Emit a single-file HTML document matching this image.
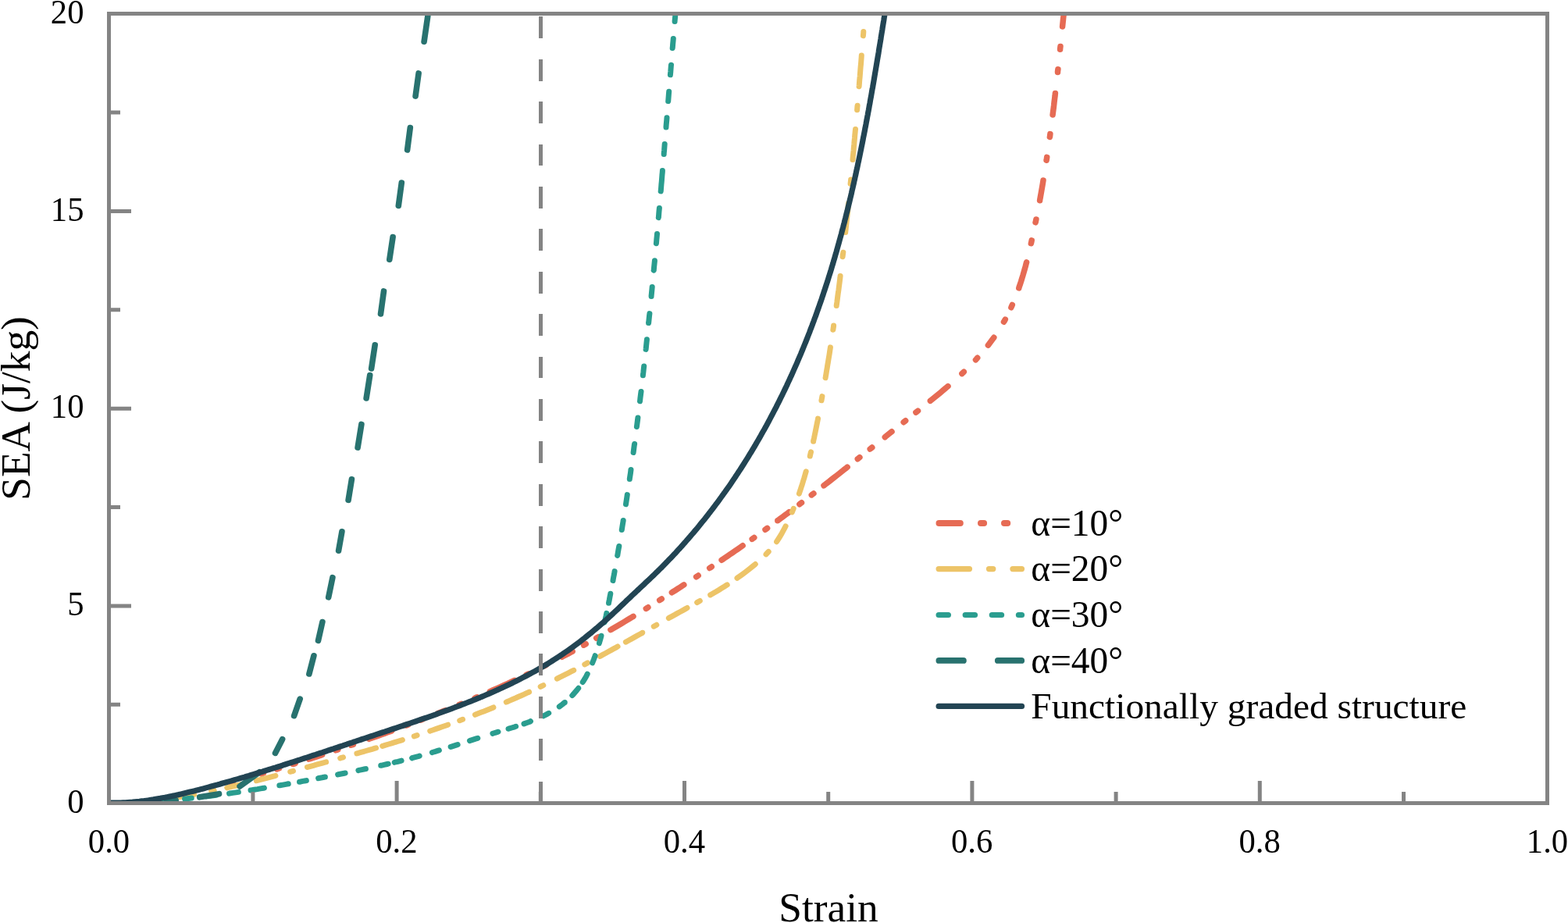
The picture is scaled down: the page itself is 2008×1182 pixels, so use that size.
<!DOCTYPE html>
<html lang="en">
<head>
<meta charset="utf-8">
<title>SEA versus Strain</title>
<style>
html,body{margin:0;padding:0;background:#fff;}
body{width:2008px;height:1182px;overflow:hidden;font-family:'Liberation Serif', serif;}
svg{display:block;}
</style>
</head>
<body>
<svg width="2008" height="1182" viewBox="0 0 2008 1182">
<rect width="2008" height="1182" fill="#fff"/>
<defs><clipPath id="c"><rect x="139.5" y="17.5" width="1842.0" height="1011.0"/></clipPath></defs>
<g clip-path="url(#c)" fill="none" stroke-linecap="round" stroke-linejoin="round">
<path stroke="#E66B54" stroke-width="7.5" d="M295.6 1002.0 L295.8 1002.0 L298.4 1001.3 M314.6 996.7 L315.1 996.5 L317.4 995.9 M334.6 990.9 L335.3 990.7 L337.4 990.0 M354.6 984.9 L355.4 984.6 L357.4 984.0 M375.3 978.5 L375.5 978.5 L378.1 977.6 M395.6 972.1 L396.4 971.8 L400.2 970.6 L404.0 969.4 L407.8 968.1 L411.6 966.9 L412.7 966.5 M430.0 960.8 L430.6 960.6 L432.8 959.9 M449.6 954.2 L450.5 953.9 L452.4 953.3 M472.5 946.3 L473.2 946.1 L477.0 944.7 L480.8 943.4 L484.5 942.1 L488.3 940.7 L492.1 939.4 L495.8 938.0 L499.6 936.7 L501.7 935.9 M520.0 929.1 L520.3 929.1 L522.8 928.1 M538.6 922.1 L539.0 922.0 L541.4 921.0 M560.5 913.6 L561.4 913.2 L565.1 911.8 L568.8 910.3 L570.5 909.6 M588.1 902.4 L588.2 902.4 L590.9 901.3 M608.1 894.0 L608.5 893.8 L610.9 892.8 M627.4 885.6 L627.8 885.4 L631.4 883.8 L635.1 882.2 L638.7 880.6 L642.4 878.9 L646.0 877.3 L649.7 875.6 L653.3 873.9 L656.9 872.2 L659.0 871.3 M674.1 864.1 L675.0 863.7 L676.9 862.8 M696.7 853.0 L697.4 852.7 L699.3 851.7 M719.8 841.2 L720.5 840.8 L724.1 838.9 L727.6 837.1 L731.1 835.2 L733.1 834.1 M747.6 826.2 L747.8 826.1 L750.2 824.7 M763.7 817.2 L764.4 816.8 L766.3 815.7 M781.9 806.6 L782.6 806.3 L786.0 804.3 L789.5 802.2 L792.9 800.2 L796.3 798.2 L799.8 796.1 L803.2 794.1 L806.6 792.0 L810.1 789.9 L811.0 789.4 M827.3 779.4 L828.0 779.0 L829.9 777.8 M844.7 768.6 L845.0 768.4 L847.3 767.0 M860.4 758.8 L861.1 758.3 L864.5 756.2 L867.9 754.0 L871.3 751.9 L874.6 749.7 L875.8 748.9 M891.6 738.7 L892.3 738.3 L894.2 737.0 M908.7 727.5 L909.0 727.3 L911.3 725.8 M924.1 717.2 L924.8 716.8 L928.1 714.5 L931.4 712.3 L934.7 710.0 L938.0 707.8 L941.3 705.5 L944.6 703.3 L947.9 701.0 L951.1 698.7 M963.2 690.3 L963.5 690.1 L965.8 688.4 M980.0 678.2 L980.5 677.9 L982.6 676.4 M995.8 666.7 L995.9 666.7 L999.1 664.3 L1002.3 661.9 L1005.5 659.5 L1008.7 657.2 L1010.6 655.7 M1023.9 645.7 L1024.7 645.1 L1026.5 643.8 M1039.3 633.9 L1039.7 633.6 L1041.9 632.0 M1055.0 621.8 L1055.6 621.4 L1058.7 618.9 L1061.9 616.5 L1065.0 614.0 L1068.2 611.5 L1071.3 609.1 L1074.5 606.6 L1077.6 604.1 L1080.7 601.6 L1083.9 599.2 L1085.1 598.2 M1098.3 587.7 L1098.8 587.4 L1100.9 585.7 M1114.2 575.0 L1114.4 574.9 L1116.8 573.0 M1133.3 559.8 L1134.0 559.2 L1137.1 556.7 L1140.2 554.2 L1142.0 552.8 M1157.2 540.7 L1157.4 540.5 L1159.7 538.7 M1172.9 528.1 L1173.1 528.0 L1175.5 526.1 M1191.4 513.3 L1191.9 512.9 L1195.0 510.4 L1198.1 507.9 L1201.2 505.3 L1204.3 502.8 L1207.4 500.2 L1210.4 497.6 L1213.5 495.0 L1214.0 494.6 M1231.9 478.5 L1232.1 478.3 L1234.3 476.2 M1249.5 460.8 L1249.7 460.6 L1251.7 458.3 M1265.4 442.1 L1265.9 441.5 L1268.3 438.3 L1270.7 435.1 L1272.8 432.3 M1285.5 412.2 L1285.9 411.6 L1287.3 409.1 M1294.9 393.8 L1295.2 393.0 L1296.3 390.5 M1304.8 368.9 L1305.0 368.0 L1306.3 364.2 L1307.6 360.4 L1308.7 356.6 L1309.9 352.8 L1311.0 348.9 L1312.1 345.1 L1313.2 341.2 L1314.2 337.3 L1314.6 335.9 M1320.4 311.7 L1320.6 310.9 L1321.2 307.9 M1326.1 284.8 L1326.2 284.5 L1326.9 281.0 M1331.6 256.7 L1331.7 255.9 L1332.4 252.0 L1333.1 248.1 L1333.8 244.1 L1334.5 240.2 L1335.2 236.2 L1335.8 232.3 L1336.0 231.0 M1340.1 205.2 L1340.2 204.7 L1340.7 201.4 M1344.4 175.4 L1344.5 175.0 L1344.9 171.6 M1348.1 147.0 L1348.2 146.3 L1348.7 142.3 L1349.2 138.4 L1349.7 134.4 L1350.1 130.4 L1350.6 126.4 L1351.1 122.5 L1351.4 119.4 M1354.5 92.5 L1354.5 91.7 L1354.9 88.7 M1357.6 63.2 L1357.6 62.8 L1358.0 59.4 M1360.6 33.9 L1360.7 32.9 L1361.1 28.9 L1361.5 25.0 L1361.9 21.0 L1362.0 20.7"/>
<path stroke="#EDC468" stroke-width="7.0" d="M198.5 1024.9 L198.6 1024.9 L202.5 1024.4 L206.5 1023.9 L210.5 1023.4 L211.5 1023.3 M229.5 1020.7 L230.2 1020.6 L234.2 1019.9 L238.1 1019.3 L242.0 1018.6 L246.0 1017.9 L248.6 1017.4 M270.6 1013.2 L271.5 1013.0 L274.2 1012.4 M290.8 1008.8 L291.0 1008.7 L294.9 1007.8 L298.8 1006.9 L302.7 1006.0 L306.6 1005.1 L309.1 1004.5 M328.4 999.7 L328.9 999.6 L332.8 998.6 L336.7 997.6 L340.6 996.6 L344.5 995.6 L348.3 994.6 L352.2 993.6 L352.9 993.4 M371.7 988.3 L372.5 988.1 L375.5 987.3 M393.4 982.5 L393.8 982.4 L397.7 981.3 L401.5 980.3 L405.4 979.2 L409.2 978.2 L413.1 977.1 L417.0 976.0 L417.6 975.9 M435.7 970.9 L436.2 970.7 L439.5 969.8 M456.9 964.9 L457.4 964.8 L461.2 963.7 L465.1 962.6 L468.9 961.5 L472.8 960.4 L476.6 959.3 L480.4 958.1 L481.6 957.8 M489.7 955.4 L490.0 955.3 L493.8 954.2 L497.7 953.0 L501.5 951.9 L505.3 950.7 L509.1 949.5 L512.9 948.3 L515.4 947.6 M530.3 942.8 L531.0 942.6 L534.1 941.6 M550.7 936.1 L551.0 936.0 L554.8 934.7 L558.6 933.4 L562.3 932.1 L566.1 930.8 L569.9 929.5 L573.6 928.2 M588.7 922.7 L588.7 922.7 L592.5 921.3 M608.4 915.3 L608.4 915.3 L612.1 913.8 L615.9 912.3 L619.6 910.9 L623.3 909.4 L627.0 907.9 L630.7 906.4 L631.9 905.9 M648.3 899.1 L649.2 898.7 L652.9 897.1 L656.6 895.5 L660.2 894.0 L663.9 892.3 L667.6 890.7 L671.2 889.1 L674.8 887.4 L677.6 886.2 M692.2 879.4 L693.0 879.0 L695.8 877.7 M713.3 869.1 L713.6 869.0 L717.2 867.2 L720.8 865.4 L724.3 863.6 L727.9 861.8 L731.5 859.9 L734.7 858.3 M748.8 850.9 L749.2 850.7 L752.4 848.9 M768.4 840.4 L768.5 840.3 L772.0 838.4 L775.6 836.5 L779.1 834.5 L782.6 832.6 L786.1 830.7 L789.6 828.8 L791.0 827.9 M801.4 822.2 L801.8 822.0 L805.3 820.0 L808.8 818.1 L812.3 816.1 L815.8 814.2 L819.3 812.2 L822.8 810.3 L822.8 810.2 M837.2 802.2 L837.7 802.0 L840.8 800.2 M856.4 791.6 L856.9 791.2 L860.4 789.3 L864.0 787.4 L867.5 785.4 L871.0 783.5 L874.5 781.6 L878.0 779.6 L880.0 778.5 M892.7 771.6 L892.9 771.4 L896.3 769.5 M909.7 761.9 L910.4 761.5 L913.8 759.5 L917.3 757.5 L920.7 755.4 L924.1 753.3 L927.5 751.2 L930.9 749.1 L931.2 748.9 M944.0 740.3 L944.1 740.2 L947.4 737.9 L950.6 735.6 L953.8 733.2 L957.0 730.8 L960.2 728.3 L963.3 725.8 L966.4 723.3 L967.3 722.5 M981.0 709.9 L981.1 709.7 L983.9 706.8 L984.2 706.5 M994.6 693.7 L995.1 692.9 L997.3 689.5 L999.4 686.1 L1001.4 682.7 L1003.3 679.2 L1005.2 675.6 L1006.1 673.8 M1014.3 655.9 L1014.4 655.7 L1015.9 652.0 L1016.2 651.3 M1023.4 632.1 L1023.6 631.5 L1024.9 627.7 L1026.1 623.9 L1027.4 620.1 L1028.5 616.3 L1029.7 612.5 L1030.8 608.6 L1031.9 604.8 L1032.2 603.8 M1037.3 584.0 L1037.4 583.5 L1038.3 579.6 L1038.5 578.8 M1041.6 565.3 L1041.6 564.9 L1042.5 561.0 L1043.3 557.1 L1044.1 553.2 L1044.9 549.2 L1045.7 545.3 L1046.5 541.3 L1047.3 537.4 L1047.5 536.1 M1051.9 512.8 L1052.0 512.8 L1052.7 508.8 L1052.9 507.6 M1057.1 483.7 L1057.2 483.2 L1057.9 479.2 L1058.5 475.3 L1059.2 471.3 L1059.8 467.4 L1060.5 463.4 L1061.1 459.5 L1061.8 455.5 L1062.4 451.6 L1063.0 447.6 L1063.4 444.9 M1066.8 422.3 L1066.9 421.9 L1067.5 418.0 L1067.6 416.9 M1071.2 391.6 L1071.2 391.2 L1071.8 387.3 L1072.3 383.3 L1072.8 379.3 L1073.3 375.4 L1073.9 371.4 L1074.4 367.4 L1074.9 363.5 L1075.4 359.5 L1075.9 355.5 L1076.1 353.5 M1079.1 328.7 L1079.2 327.8 L1079.7 323.8 L1079.8 323.3 M1082.7 297.5 L1082.7 297.0 L1083.2 293.0 L1083.6 289.0 L1084.0 285.1 L1084.4 281.1 L1084.9 277.1 L1085.3 273.1 L1085.7 269.2 L1086.1 265.2 L1086.5 261.2 L1086.6 260.3 M1089.1 235.3 L1089.2 234.3 L1089.6 230.4 L1089.6 229.9 M1092.0 204.6 L1092.0 204.5 L1092.3 200.5 L1092.7 196.5 L1093.1 192.5 L1093.4 188.5 L1093.8 184.6 L1094.1 180.6 L1094.5 176.6 L1094.8 172.6 L1095.2 168.6 L1095.5 165.5 M1097.6 140.7 L1097.6 140.7 L1097.9 136.7 L1098.1 135.3 M1100.1 110.7 L1100.2 109.8 L1100.5 105.8 L1100.8 101.8 L1101.2 97.8 L1101.5 93.8 L1101.8 89.8 L1102.1 85.9 L1102.5 81.9 L1102.8 77.9 L1103.1 73.9 L1103.3 71.1 M1105.4 45.8 L1105.5 44.9 L1105.8 40.9 L1105.8 40.4"/>
<path stroke="#2A9D8F" stroke-width="7.0" d="M208.5 1025.5 L208.7 1025.5 L212.6 1025.2 L216.6 1024.9 L217.5 1024.8 M236.6 1023.0 L237.5 1022.9 L241.5 1022.5 L245.3 1022.1 M264.5 1019.9 L265.3 1019.8 L269.3 1019.3 L273.2 1018.8 L276.5 1018.4 M293.5 1016.1 L294.0 1016.0 L298.0 1015.4 L301.9 1014.9 L305.3 1014.4 M321.0 1012.0 L321.7 1011.9 L325.6 1011.2 L329.6 1010.6 L333.5 1009.9 L337.5 1009.3 L338.4 1009.1 M357.8 1005.8 L358.2 1005.8 L362.1 1005.1 L366.1 1004.4 L369.2 1003.8 M383.5 1001.2 L383.8 1001.2 L387.7 1000.4 L391.7 999.7 L392.3 999.6 M407.6 996.7 L408.4 996.5 L412.4 995.8 L416.3 995.0 L416.4 995.0 M432.6 991.9 L433.0 991.8 L437.0 991.0 L440.9 990.2 L442.1 990.0 M458.9 986.6 L459.6 986.4 L463.5 985.6 L467.4 984.8 L468.4 984.6 M487.7 980.3 L488.0 980.3 L491.9 979.4 L495.8 978.5 L497.2 978.2 M505.2 976.3 L505.5 976.2 L509.4 975.3 L513.3 974.3 L514.1 974.1 M527.7 970.7 L527.8 970.6 L531.6 969.6 L535.5 968.6 L537.2 968.1 M553.4 963.6 L553.7 963.5 L557.5 962.4 L561.3 961.2 L562.4 960.9 M577.1 956.4 L577.5 956.3 L581.3 955.1 L585.1 953.9 L586.1 953.5 M601.5 948.6 L602.1 948.4 L606.0 947.1 L609.8 945.9 L611.8 945.3 M630.9 939.3 L631.9 939.0 L635.8 937.8 L638.0 937.2 M651.0 933.3 L651.4 933.2 L655.3 932.0 L659.2 930.8 L660.6 930.3 M671.0 926.9 L671.8 926.6 L675.6 925.3 L679.3 923.9 L679.4 923.8 M695.9 916.8 L695.9 916.8 L699.4 915.1 L702.7 913.3 M716.3 904.9 L717.0 904.4 L720.2 902.0 L723.2 899.5 L723.3 899.5 M732.8 890.6 L733.3 890.1 L735.9 887.1 L738.5 884.1 L740.7 881.3 M746.2 873.5 L746.7 872.8 L748.8 869.4 L750.8 865.9 L752.2 863.2 M758.7 848.9 L758.8 848.5 L760.3 844.7 L761.7 840.9 L762.1 839.7 M767.4 823.6 L767.6 822.8 L768.7 819.0 L769.8 815.1 L770.0 814.2 M774.3 796.7 L774.4 796.6 L775.2 792.7 L776.1 788.8 L776.8 785.4 M779.5 772.3 L779.5 772.1 L780.3 768.2 L781.0 764.3 L781.8 760.4 L781.8 760.3 M785.0 743.5 L785.1 742.6 L785.8 738.7 L786.6 734.8 L787.1 731.6 M790.7 711.4 L790.8 711.1 L791.4 707.2 L792.1 703.2 L792.8 699.5 M796.2 678.6 L796.3 678.6 L796.9 674.6 L797.5 670.7 L798.2 666.7 L798.2 666.5 M801.5 645.8 L801.6 645.0 L802.2 641.0 L802.8 637.1 L803.3 633.6 M806.3 613.6 L806.3 613.3 L806.9 609.4 L807.5 605.4 L808.0 601.5 L808.0 601.4 M811.1 579.5 L811.2 578.7 L811.7 574.7 L812.2 570.7 L812.6 568.5 M815.4 546.5 L815.5 545.9 L816.0 542.0 L816.5 538.0 L816.9 534.9 M819.5 513.7 L819.6 513.2 L820.0 509.2 L820.5 505.2 L821.0 501.5 M823.4 480.8 L823.4 480.4 L823.9 476.4 L824.3 472.5 L824.7 469.0 M827.1 447.4 L827.2 446.6 L827.6 442.6 L828.0 438.6 L828.4 434.8 M830.6 413.6 L830.7 412.8 L831.1 408.8 L831.5 404.8 L831.9 401.6 M834.1 379.5 L834.1 378.9 L834.5 374.9 L834.9 370.9 L835.2 367.4 M837.2 346.2 L837.3 346.0 L837.6 342.0 L838.0 338.1 L838.4 334.1 L838.4 333.7 M840.4 311.7 L840.5 311.1 L840.8 307.2 L841.2 303.2 L841.5 299.5 M843.3 278.6 L843.4 278.2 L843.7 274.3 L844.0 270.3 L844.4 266.4 M846.2 244.9 L846.3 244.3 L846.6 240.4 L846.9 236.4 L847.3 232.4 L847.6 228.4 L847.9 224.4 L848.3 220.4 L848.4 218.6 M850.2 197.4 L850.2 196.5 L850.6 192.5 L850.9 188.5 L851.2 184.5 L851.2 184.5 M853.0 163.1 L853.0 162.6 L853.3 158.6 L853.7 154.6 L854.0 150.8 M855.7 129.6 L855.8 128.7 L856.1 124.7 L856.4 120.7 L856.7 117.3 M858.4 95.8 L858.4 95.8 L858.8 91.8 L859.1 87.8 L859.4 83.8 L859.5 83.2 M861.2 61.6 L861.3 60.9 L861.6 56.9 L862.0 52.9 L862.3 49.4 M864.1 27.4 L864.1 27.0 L864.5 23.0 L864.7 20.5"/>
<path stroke="#28726F" stroke-width="7.6" d="M547.8 20.8 L543.1 53.3 M536.1 93.9 L532.1 123.1 M525.3 163.5 L521.6 192.0 M514.3 234.1 L510.3 263.4 M503.1 303.6 L498.8 332.3 M491.5 372.9 L487.5 401.9 M480.2 441.8 L475.6 472.0 M473.7 480.6 L469.1 510.0 M462.9 543.4 L458.1 573.1 M450.4 613.8 L446.1 640.3 M437.9 680.8 L433.6 705.2 M425.9 739.7 L420.7 764.8 M412.9 796.5 L407.5 820.4 M401.9 839.8 L395.9 863.0 M384.2 895.1 L376.6 916.7 M361.6 946.7 L352.5 964.4 M332.2 988.8 L307.1 1007.0 M280.5 1016.7 L255.7 1020.8 M225.2 1025.1 L213.7 1026.1"/>
<path stroke="#224453" stroke-width="7.2" d="M139.6 1028.2 L142.6 1028.2 L145.6 1028.2 L148.6 1028.2 L151.6 1028.2 L154.6 1028.1 L157.6 1027.9 L160.6 1027.8 L163.6 1027.6 L166.6 1027.4 L169.6 1027.2 L172.6 1026.9 L175.5 1026.6 L178.5 1026.3 L181.5 1025.9 L184.5 1025.6 L187.5 1025.2 L190.4 1024.8 L193.4 1024.3 L196.4 1023.9 L199.3 1023.4 L202.3 1022.9 L205.2 1022.4 L208.2 1021.8 L211.2 1021.3 L214.1 1020.7 L217.1 1020.1 L220.0 1019.5 L222.9 1018.9 L225.9 1018.2 L228.8 1017.6 L231.8 1016.9 L234.7 1016.2 L237.6 1015.5 L240.5 1014.8 L243.5 1014.1 L246.4 1013.4 L249.3 1012.7 L252.2 1011.9 L255.2 1011.2 L258.1 1010.4 L261.0 1009.7 L263.9 1008.9 L266.8 1008.1 L269.7 1007.3 L272.6 1006.5 L275.5 1005.7 L278.4 1005.0 L281.3 1004.2 L284.2 1003.3 L287.1 1002.5 L289.9 1001.7 L292.8 1000.9 L295.7 1000.1 L298.6 999.3 L301.5 998.4 L304.4 997.6 L307.2 996.8 L310.1 995.9 L313.0 995.1 L315.8 994.2 L318.7 993.4 L321.6 992.5 L324.4 991.6 L327.3 990.8 L330.2 989.9 L333.0 989.0 L335.9 988.2 L338.8 987.3 L341.6 986.4 L344.5 985.5 L347.3 984.6 L350.2 983.7 L353.0 982.9 L355.9 982.0 L358.7 981.1 L361.6 980.2 L364.4 979.2 L367.3 978.3 L370.1 977.4 L373.0 976.5 L375.8 975.6 L378.7 974.7 L381.5 973.8 L384.4 972.9 L387.2 971.9 L390.0 971.0 L392.9 970.1 L395.7 969.2 L398.6 968.2 L401.4 967.3 L404.3 966.4 L407.1 965.4 L409.9 964.5 L412.8 963.6 L415.6 962.6 L418.5 961.7 L421.3 960.7 L424.2 959.8 L427.0 958.9 L429.8 957.9 L432.7 957.0 L435.5 956.0 L438.4 955.1 L441.2 954.1 L444.1 953.2 L446.9 952.2 L449.8 951.3 L452.6 950.3 L455.5 949.4 L458.3 948.4 L461.2 947.5 L464.0 946.5 L466.9 945.6 L469.7 944.7 L472.6 943.7 L475.4 942.8 L478.3 941.8 L481.1 940.9 L484.0 939.9 L486.8 939.0 L489.7 938.0 L492.6 937.1 L495.4 936.1 L498.3 935.2 L501.2 934.2 L504.0 933.3 L506.9 932.3 L509.7 931.4 L512.6 930.4 L515.5 929.5 L518.3 928.5 L521.2 927.5 L524.0 926.6 L526.9 925.6 L529.8 924.6 L532.6 923.7 L535.5 922.7 L538.3 921.7 L541.2 920.7 L544.0 919.8 L546.9 918.8 L549.7 917.8 L552.6 916.8 L555.4 915.8 L558.3 914.8 L561.1 913.7 L564.0 912.7 L566.8 911.7 L569.6 910.7 L572.5 909.6 L575.3 908.6 L578.1 907.6 L580.9 906.5 L583.7 905.4 L586.6 904.4 L589.4 903.3 L592.2 902.2 L595.0 901.1 L597.8 900.0 L600.6 898.9 L603.4 897.8 L606.2 896.7 L608.9 895.6 L611.7 894.4 L614.5 893.3 L617.3 892.1 L620.0 891.0 L622.8 889.8 L625.5 888.6 L628.3 887.4 L631.0 886.2 L633.7 885.0 L636.5 883.8 L639.2 882.5 L641.9 881.3 L644.6 880.0 L647.3 878.8 L650.0 877.5 L652.7 876.2 L655.4 874.9 L658.1 873.6 L660.8 872.3 L663.4 870.9 L666.1 869.6 L668.7 868.2 L671.4 866.8 L674.0 865.5 L676.6 864.1 L679.3 862.6 L681.9 861.2 L684.5 859.8 L687.1 858.3 L689.7 856.8 L692.2 855.3 L694.8 853.8 L697.4 852.3 L699.9 850.8 L702.5 849.3 L705.0 847.7 L707.5 846.1 L710.0 844.5 L712.6 842.9 L715.1 841.3 L717.5 839.6 L720.0 838.0 L722.5 836.3 L724.9 834.6 L727.4 832.9 L729.8 831.2 L732.3 829.4 L734.7 827.7 L737.1 825.9 L739.5 824.1 L741.9 822.3 L744.2 820.5 L746.6 818.6 L749.0 816.8 L751.3 814.9 L753.6 813.0 L756.0 811.2 L758.3 809.2 L760.6 807.3 L762.9 805.4 L765.2 803.5 L767.5 801.5 L769.7 799.5 L772.0 797.6 L774.2 795.6 L776.5 793.6 L778.7 791.6 L780.9 789.5 L783.1 787.5 L785.3 785.5 L787.5 783.4 L789.7 781.4 L791.9 779.3 L794.1 777.2 L796.2 775.2 L798.4 773.1 L800.6 771.0 L802.7 768.9 L804.9 766.9 L807.1 764.8 L809.3 762.7 L811.5 760.7 L813.7 758.6 L815.9 756.5 L818.1 754.5 L820.3 752.4 L822.5 750.4 L824.7 748.3 L826.9 746.2 L829.1 744.1 L831.3 742.1 L833.5 740.0 L835.7 737.9 L837.9 735.8 L840.0 733.7 L842.2 731.6 L844.3 729.5 L846.5 727.4 L848.6 725.2 L850.7 723.1 L852.8 720.9 L854.9 718.8 L857.0 716.6 L859.1 714.4 L861.2 712.2 L863.2 710.1 L865.3 707.9 L867.3 705.6 L869.3 703.4 L871.4 701.2 L873.4 699.0 L875.4 696.7 L877.4 694.5 L879.3 692.2 L881.3 690.0 L883.3 687.7 L885.2 685.4 L887.2 683.2 L889.1 680.9 L891.0 678.6 L893.0 676.3 L894.9 674.0 L896.8 671.6 L898.6 669.3 L900.5 667.0 L902.4 664.7 L904.3 662.3 L906.1 660.0 L907.9 657.6 L909.8 655.2 L911.6 652.8 L913.4 650.5 L915.2 648.1 L917.0 645.7 L918.8 643.3 L920.6 640.9 L922.3 638.5 L924.1 636.0 L925.8 633.6 L927.6 631.2 L929.3 628.7 L931.0 626.3 L932.8 623.9 L934.5 621.4 L936.2 618.9 L937.8 616.5 L939.5 614.0 L941.2 611.5 L942.8 609.0 L944.5 606.5 L946.1 604.0 L947.8 601.5 L949.4 599.0 L951.0 596.5 L952.6 594.0 L954.2 591.4 L955.8 588.9 L957.4 586.3 L958.9 583.8 L960.5 581.2 L962.1 578.7 L963.6 576.1 L965.1 573.6 L966.7 571.0 L968.2 568.4 L969.7 565.8 L971.2 563.2 L972.7 560.6 L974.2 558.0 L975.6 555.4 L977.1 552.8 L978.6 550.2 L980.0 547.6 L981.5 545.0 L982.9 542.3 L984.3 539.7 L985.7 537.1 L987.1 534.4 L988.5 531.8 L989.9 529.1 L991.3 526.4 L992.7 523.8 L994.1 521.1 L995.4 518.4 L996.8 515.8 L998.1 513.1 L999.4 510.4 L1000.8 507.7 L1002.1 505.0 L1003.4 502.3 L1004.7 499.6 L1006.0 496.9 L1007.3 494.2 L1008.5 491.5 L1009.8 488.8 L1011.1 486.0 L1012.3 483.3 L1013.6 480.6 L1014.8 477.8 L1016.0 475.1 L1017.2 472.4 L1018.5 469.6 L1019.7 466.9 L1020.9 464.1 L1022.0 461.4 L1023.2 458.6 L1024.4 455.8 L1025.6 453.1 L1026.7 450.3 L1027.9 447.5 L1029.0 444.7 L1030.1 442.0 L1031.3 439.2 L1032.4 436.4 L1033.5 433.6 L1034.6 430.8 L1035.7 428.0 L1036.8 425.2 L1037.8 422.4 L1038.9 419.6 L1040.0 416.8 L1041.0 414.0 L1042.1 411.2 L1043.1 408.3 L1044.2 405.5 L1045.2 402.7 L1046.2 399.9 L1047.2 397.0 L1048.2 394.2 L1049.2 391.4 L1050.2 388.5 L1051.2 385.7 L1052.2 382.9 L1053.1 380.0 L1054.1 377.2 L1055.0 374.3 L1056.0 371.5 L1056.9 368.6 L1057.8 365.8 L1058.8 362.9 L1059.7 360.1 L1060.6 357.2 L1061.5 354.3 L1062.4 351.5 L1063.3 348.6 L1064.2 345.7 L1065.0 342.9 L1065.9 340.0 L1066.8 337.1 L1067.6 334.2 L1068.5 331.4 L1069.3 328.5 L1070.1 325.6 L1071.0 322.7 L1071.8 319.8 L1072.6 316.9 L1073.4 314.0 L1074.2 311.2 L1075.0 308.3 L1075.8 305.4 L1076.6 302.5 L1077.4 299.6 L1078.1 296.7 L1078.9 293.8 L1079.7 290.9 L1080.4 288.0 L1081.2 285.1 L1081.9 282.1 L1082.7 279.2 L1083.4 276.3 L1084.1 273.4 L1084.9 270.5 L1085.6 267.6 L1086.3 264.7 L1087.0 261.7 L1087.7 258.8 L1088.4 255.9 L1089.1 253.0 L1089.8 250.1 L1090.5 247.1 L1091.1 244.2 L1091.8 241.3 L1092.5 238.4 L1093.2 235.4 L1093.8 232.5 L1094.5 229.6 L1095.1 226.6 L1095.8 223.7 L1096.4 220.8 L1097.0 217.8 L1097.7 214.9 L1098.3 212.0 L1098.9 209.0 L1099.6 206.1 L1100.2 203.1 L1100.8 200.2 L1101.4 197.3 L1102.0 194.3 L1102.6 191.4 L1103.2 188.4 L1103.8 185.5 L1104.4 182.5 L1105.0 179.6 L1105.5 176.6 L1106.1 173.7 L1106.7 170.7 L1107.3 167.8 L1107.8 164.8 L1108.4 161.9 L1109.0 158.9 L1109.5 156.0 L1110.1 153.0 L1110.6 150.1 L1111.2 147.1 L1111.7 144.2 L1112.3 141.2 L1112.8 138.3 L1113.3 135.3 L1113.9 132.4 L1114.4 129.4 L1114.9 126.5 L1115.5 123.5 L1116.0 120.5 L1116.5 117.6 L1117.0 114.6 L1117.6 111.7 L1118.1 108.7 L1118.6 105.8 L1119.1 102.8 L1119.6 99.8 L1120.1 96.9 L1120.6 93.9 L1121.1 91.0 L1121.6 88.0 L1122.1 85.1 L1122.6 82.1 L1123.1 79.1 L1123.6 76.2 L1124.1 73.2 L1124.6 70.3 L1125.1 67.3 L1125.5 64.4 L1126.0 61.4 L1126.5 58.5 L1127.0 55.5 L1127.5 52.5 L1128.0 49.6 L1128.4 46.6 L1128.9 43.7 L1129.4 40.7 L1129.9 37.8 L1130.3 34.8 L1130.8 31.9 L1131.3 28.9 L1131.8 26.0 L1132.2 23.0 L1132.7 20.1 L1133.2 17.1"/>
<line x1="692.5" y1="1028.5" x2="692.5" y2="17.5" stroke="#848484" stroke-width="5" stroke-linecap="butt" stroke-dasharray="27.9 26.5" shape-rendering="crispEdges"/>
</g>
<g stroke="#848484" stroke-width="5.0" fill="none" stroke-linecap="butt" shape-rendering="crispEdges">
<rect x="139.5" y="17.5" width="1842.0" height="1011.0"/>
<path shape-rendering="auto" d="M323.90 1028.5 v-14.5 M508.10 1028.5 v-28.5 M692.30 1028.5 v-14.5 M876.50 1028.5 v-28.5 M1060.70 1028.5 v-14.5 M1244.90 1028.5 v-28.5 M1429.10 1028.5 v-14.5 M1613.30 1028.5 v-28.5 M1797.50 1028.5 v-14.5 M139.5 902.33 h14.5 M139.5 775.95 h28.5 M139.5 649.58 h14.5 M139.5 523.20 h28.5 M139.5 396.82 h14.5 M139.5 270.45 h28.5 M139.5 144.07 h14.5"/>
</g>
<g font-family="'Liberation Serif', serif" font-size="42.67" fill="#000">
<text transform="translate(107.5 1040.8) scale(1 1.035)" text-anchor="end">0</text>
<text transform="translate(107.5 788.0) scale(1 1.035)" text-anchor="end">5</text>
<text transform="translate(107.5 535.3) scale(1 1.035)" text-anchor="end">10</text>
<text transform="translate(107.5 282.6) scale(1 1.035)" text-anchor="end">15</text>
<text transform="translate(107.5 29.8) scale(1 1.035)" text-anchor="end">20</text>
<text transform="translate(139.5 1092.3) scale(1 1.035)" text-anchor="middle">0.0</text>
<text transform="translate(507.9 1092.3) scale(1 1.035)" text-anchor="middle">0.2</text>
<text transform="translate(876.3 1092.3) scale(1 1.035)" text-anchor="middle">0.4</text>
<text transform="translate(1244.7 1092.3) scale(1 1.035)" text-anchor="middle">0.6</text>
<text transform="translate(1613.1 1092.3) scale(1 1.035)" text-anchor="middle">0.8</text>
<text transform="translate(1981.5 1092.3) scale(1 1.035)" text-anchor="middle">1.0</text>
</g>
<g font-family="'Liberation Serif', serif" font-size="53.33" fill="#000" text-anchor="middle">
<text x="1061.0" y="1180.0">Strain</text>
<text transform="translate(38.0 522.9) rotate(-90)">SEA (J/kg)</text>
</g>
<g fill="none" stroke-linecap="round">
<line x1="1202.50" y1="670.0" x2="1308.10" y2="670.0" stroke="#E66B54" stroke-width="8.0" stroke-dasharray="27.3 26.2 4.1 25.9 4.2 26"/>
<line x1="1202.10" y1="728.6" x2="1308.50" y2="728.6" stroke="#EDC468" stroke-width="7.2" stroke-dasharray="39.4 25 5.3 25.1"/>
<line x1="1202.10" y1="787.5" x2="1308.50" y2="787.5" stroke="#2A9D8F" stroke-width="7.2" stroke-dasharray="12.3 21.8"/>
<line x1="1202.45" y1="845.9" x2="1308.15" y2="845.9" stroke="#28726F" stroke-width="7.9" stroke-dasharray="31.4 44"/>
<line x1="1202.05" y1="904.4" x2="1308.55" y2="904.4" stroke="#224453" stroke-width="7.1"/>
</g>
<g font-family="'Liberation Serif', serif" font-size="47.4" fill="#000">
<text transform="translate(1320.3 686.1) scale(1 1.03)">α=10°</text>
<text transform="translate(1320.3 744.2) scale(1 1.03)">α=20°</text>
<text transform="translate(1320.3 802.9) scale(1 1.03)">α=30°</text>
<text transform="translate(1320.3 861.6) scale(1 1.03)">α=40°</text>
<text transform="translate(1320.3 920.0) scale(1 1.0)">Functionally graded structure</text>
</g>
</svg>
</body>
</html>
